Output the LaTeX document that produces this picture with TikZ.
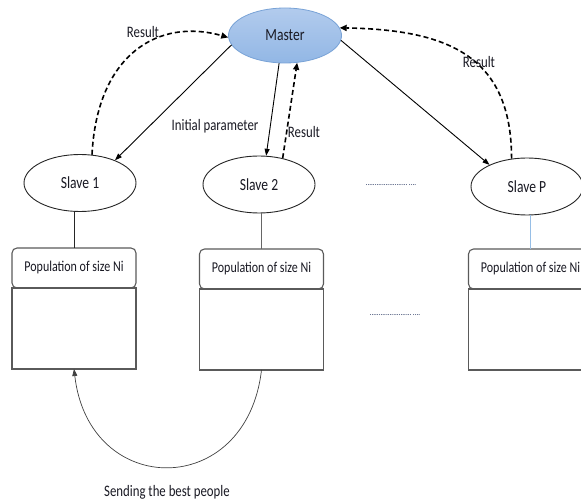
\documentclass[tikz,border=0pt]{standalone}
\usepackage{fontspec}
\setmainfont{Carlito}[FakeStretch=0.8]
\usepackage{xcolor}
\usetikzlibrary{shapes.geometric}
\usetikzlibrary{arrows.meta}
\usetikzlibrary{positioning}

\definecolor{mastertop}{RGB}{178,203,237}
\definecolor{masterbot}{RGB}{146,183,229}
\definecolor{masterline}{RGB}{120,162,214}
\definecolor{boxline}{RGB}{90,90,90}
\definecolor{txt}{RGB}{25,25,35}
\definecolor{linkblue}{RGB}{150,190,230}
\definecolor{dotcol}{RGB}{45,60,100}

\begin{document}
\begin{tikzpicture}[x=1pt,y=-1pt,
  master/.style={ellipse,draw=masterline,line width=.8pt,top color=mastertop,bottom color=masterbot,
    minimum width=113pt,minimum height=55pt,inner sep=0pt,text=txt,font=\fontsize{17}{20}\selectfont},
  slave/.style={ellipse,draw=black!85,line width=.9pt,fill=white,
    minimum width=112pt,minimum height=57pt,inner sep=0pt,text=txt,font=\fontsize{17}{20}\selectfont},
  pophead/.style={rectangle,rounded corners=5pt,draw=boxline,line width=1.1pt,fill=white,
    minimum width=124pt,minimum height=40pt,outer sep=0pt,text=txt,font=\fontsize{15}{18}\selectfont},
  popbody/.style={rectangle,draw=boxline,line width=1.3pt,minimum width=124pt,minimum height=81pt,outer sep=0pt},
  lbl/.style={text=txt,font=\fontsize{16}{19}\selectfont},
  dots/.style={text=dotcol,font=\fontsize{9}{10}\selectfont,inner sep=0pt},
  param/.style={line width=.9pt,-{Triangle[length=7pt,width=5pt]}},
  result/.style={line width=1.6pt,dash pattern=on 5pt off 3pt,-{Triangle[length=7pt,width=6pt]}},
  best/.style={line width=.7pt,draw=black!75,-{Triangle[length=7pt,width=5pt]}}]
  \useasboundingbox (0,0) rectangle (581,502);

  \path (285,35.5) node (ms) [master] {Master}
    ++(-205,147.5) node (s1) [slave] {Slave 1}
    ++(179,1.5) node (s2) [slave] {Slave 2}
    ++(268,2) node (sp) [slave] {Slave P};

  \path (74,268) node (p1h) [pophead] {Population of size Ni}
    ++(187.5,1) node (p2h) [pophead] {Population of size Ni}
    ++(269,0) node (p3h) [pophead] {Population of size Ni};
  \node (p1b) [popbody,below=0pt of p1h] {};
  \node (p2b) [popbody,below=0pt of p2h] {};
  \node (p3b) [popbody,below=0pt of p3h] {};

  \draw[line width=.9pt,black!85] (p1h.north) -- (p1h.north |- s1.south);
  \draw[line width=.9pt,black!60] (p2h.north) -- (p2h.north |- s2.south);
  \draw[line width=.9pt,linkblue] (p3h.north) -- (p3h.north |- sp.south);

  \node (d1) [dots] at (391,185) {.......................\,....};
  \node (d2) [dots] at (395,315) {.......................\,....};

  \draw[param] (ms.190) -- (s1.33);
  \draw[param] (ms.258) -- (s2.76);
  \draw[param] (ms.355) -- (sp.150);
  \draw[result] (s1.67) .. controls +(5,-100) and +(-70,-20) .. (ms.182);
  \draw[result] (s2.48) -- (ms.294);
  \draw[result] (sp.119) .. controls +(0,-105) and +(105,2) .. (ms.8);
  \draw[best] (p2b.south) .. controls +(-15,130) and +(15,130) .. (p1b.south);

  \node (r1) [lbl] at (143,32) {Result};
  \node (ip) [lbl] at (215,126) {Initial parameter};
  \node (r2) [lbl] at (304,132) {Result};
  \node (rp) [lbl] at (479,62) {Result};
  \node (sb) [lbl] at (167,492) {Sending the best people};
\end{tikzpicture}
\end{document}
